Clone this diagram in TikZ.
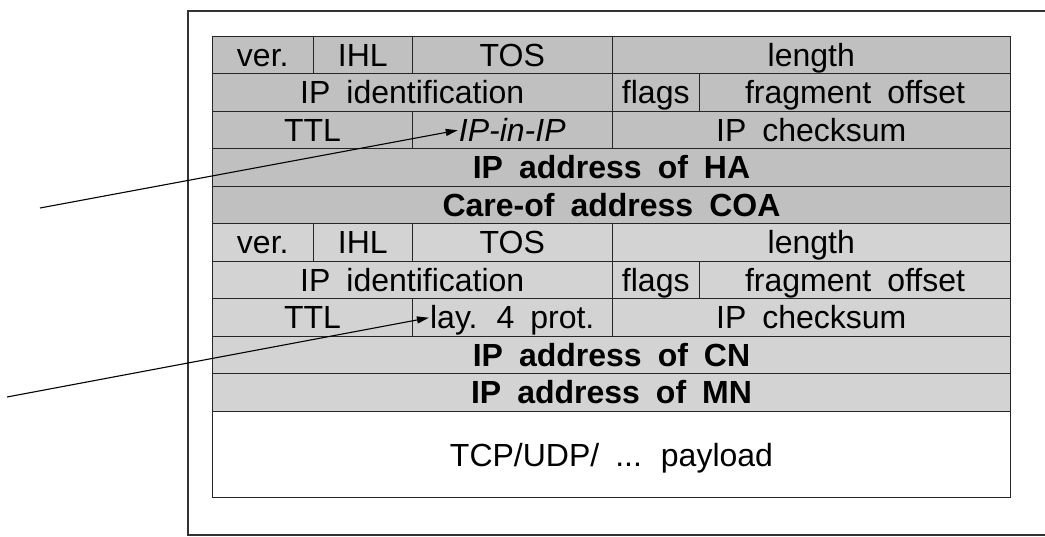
\documentclass[tikz,border=0pt]{standalone}
\usepackage{fontspec}
\setmainfont{Liberation Sans}[WordSpace=1.8]
\usetikzlibrary{arrows.meta}
\definecolor{outerhdr}{HTML}{C0C0C0}
\definecolor{innerhdr}{HTML}{D3D3D3}
\tikzset{
  cell/.style={draw=black!85, line width=1pt, inner sep=0pt, anchor=north west,
               minimum height=37.5pt, text height=24pt, text depth=1.5pt,
               font=\fontsize{32}{34}\selectfont},
  outercell/.style={cell, fill=outerhdr},
  innercell/.style={cell, fill=innerhdr},
  fieldtext/.style={inner sep=1pt, text height=24pt, text depth=1.5pt,
                    font=\fontsize{32}{34}\selectfont},
  pointer/.style={line width=1.1pt, -{Triangle[length=12pt,width=7pt]}},
  frameline/.style={line width=1.2pt, draw=black!80}
}
\begin{document}
\begin{tikzpicture}[x=1pt,y=-1pt]
\useasboundingbox (0,0) rectangle (1045,537);

% surrounding frame (open to the right)
\draw[frameline] (1045,11) -- (188,11) -- (188,535) -- (1045,535);

% ---- outer IP header (encapsulating) ----
\node[outercell, minimum width=100.5pt] (o-ver) at (212,36) {ver.};
\node[outercell, minimum width=99.5pt]  (o-ihl) at (312.5,36) {IHL};
\node[outercell, minimum width=199.5pt] (o-tos) at (412,36) {TOS};
\node[outercell, minimum width=398.5pt] (o-len) at (611.5,36) {length};

\node[outercell, minimum width=399.5pt] (o-id)    at (212,73.5) {IP identification};
\node[outercell, minimum width=87.5pt]  (o-flags) at (611.5,73.5) {flags};
\node[outercell, minimum width=311pt]   (o-frag)  at (699,73.5) {fragment offset};

\node[outercell, minimum width=200pt]   (o-ttl)   at (212,111) {TTL};
\node[outercell, minimum width=199.5pt] (o-proto) at (412,111) {};
\node[outercell, minimum width=398.5pt] (o-csum)  at (611.5,111) {IP checksum};
\node[fieldtext, font=\fontsize{32}{34}\selectfont\itshape] (ipinip) at (o-proto.center) {IP-in-IP};

\node[outercell, minimum width=798pt] (o-src) at (212,148.5) {\bfseries IP address of HA};
\node[outercell, minimum width=798pt] (o-dst) at (212,186) {\bfseries Care-of address COA};

% ---- inner IP header (original packet) ----
\node[innercell, minimum width=100.5pt] (i-ver) at (212,223.5) {ver.};
\node[innercell, minimum width=99.5pt]  (i-ihl) at (312.5,223.5) {IHL};
\node[innercell, minimum width=199.5pt] (i-tos) at (412,223.5) {TOS};
\node[innercell, minimum width=398.5pt] (i-len) at (611.5,223.5) {length};

\node[innercell, minimum width=399.5pt] (i-id)    at (212,261) {IP identification};
\node[innercell, minimum width=87.5pt]  (i-flags) at (611.5,261) {flags};
\node[innercell, minimum width=311pt]   (i-frag)  at (699,261) {fragment offset};

\node[innercell, minimum width=200pt]   (i-ttl)   at (212,298.5) {TTL};
\node[innercell, minimum width=199.5pt] (i-proto) at (412,298.5) {};
\node[innercell, minimum width=398.5pt] (i-csum)  at (611.5,298.5) {IP checksum};
\node[fieldtext] (lay4) at (i-proto.center) {lay. 4 prot.};

\node[innercell, minimum width=798pt] (i-src) at (212,336) {\bfseries IP address of CN};
\node[innercell, minimum width=798pt] (i-dst) at (212,373.5) {\bfseries IP address of MN};

% ---- payload ----
\node[cell, fill=white, minimum width=798pt, minimum height=86pt,
      text height=23pt, text depth=0pt] (payload) at (212,411) {TCP/UDP/ ... payload};

% ---- pointers to the protocol fields ----
\coordinate (p1) at (40,208);
\coordinate (p2) at (7,397);
\draw[pointer] (p1) -- (ipinip.west);
\draw[pointer] (p2) -- (lay4.west);
\end{tikzpicture}
\end{document}
